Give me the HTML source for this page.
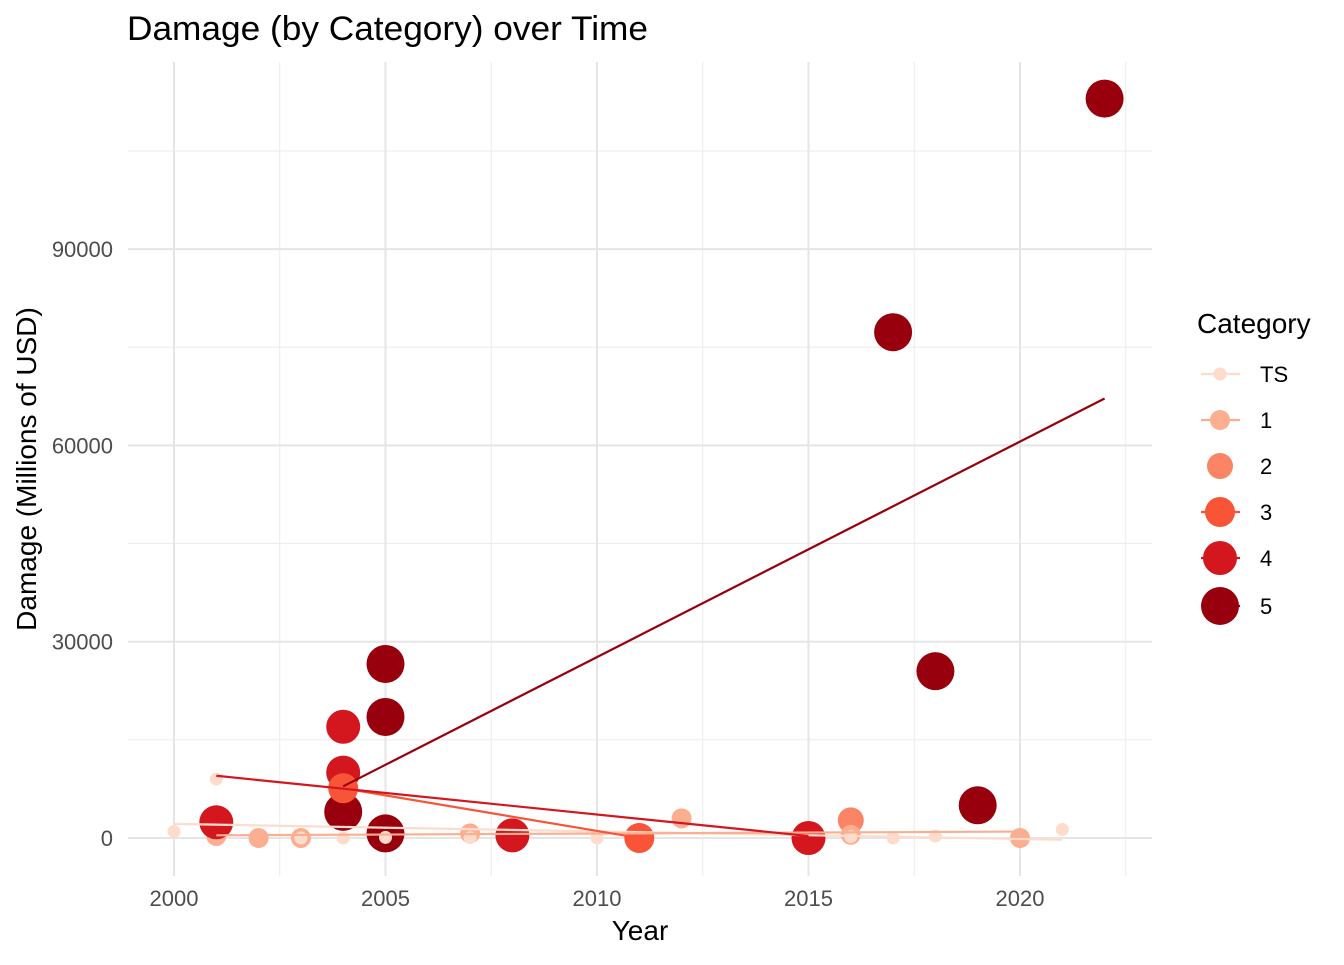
<!DOCTYPE html>
<html><head><meta charset="utf-8"><style>
body{margin:0;background:#fff;}
svg text{font-family:"Liberation Sans",Arial,sans-serif;}
</style></head><body>
<svg id="chart" width="1344" height="960" xmlns="http://www.w3.org/2000/svg">
<rect width="1344" height="960" fill="#fff"/>
<text x="127" y="40" font-size="34" fill="#000" textLength="521" lengthAdjust="spacingAndGlyphs">Damage (by Category) over Time</text>
<g id="grid"></g>
<g id="points"></g>
<g id="lines"></g>
<g id="axes"></g>
<text x="640" y="940" font-size="28" text-anchor="middle">Year</text>
<text transform="translate(36,469) rotate(-90)" font-size="28" text-anchor="middle">Damage (Millions of USD)</text>
<g id="legend">
<text x="1197" y="333" font-size="28">Category</text>
</g>
</svg>
<script>
const categories = ["TS","1","2","3","4","5"];
const colors = ["#FDDCCB","#FCAE91","#FA8464","#FA5438","#D4161E","#99000D"];
const radii = [6.5,10,13,15,17,19];
const years =    [2000,2001,2001,2001,2002,2003,2003,2004,2004,2004,2004,2004,2005,2005,2005,2005,2007,2007,2008,2010,2011,2012,2015,2016,2016,2016,2017,2017,2018,2018,2019,2020,2021,2022];
const damages =  [1000,9000,300, 2400,0,   0,   0,   4000,17000,10000,7600,0,  26600,18500,700,100,700, 50,  400, 0,   0,   3000,0,   2700,500, 200, 77300,0,  25500,300, 5000,0,   1300,113000];
const cats =     [0,   0,   1,   4,   1,   1,   0,   5,   4,    4,    3,   0,  5,    5,    5,  0,  1,   0,   4,   0,   3,   1,   4,   2,   1,   0,   5,    0,  5,    0,   5,   1,   0,   5];
const xTicks = [2000,2005,2010,2015,2020];
const yTicks = [0,30000,60000,90000];
const NS="http://www.w3.org/2000/svg";
const X = y => 174 + (y-2000)*42.3;
const Y = v => 838 - v*196.3/30000;
const L=128,R=1152,T=62,B=876;
function mk(t,a,p){const e=document.createElementNS(NS,t);for(const k in a)e.setAttribute(k,a[k]);p.appendChild(e);return e;}
const grid=document.getElementById('grid');
for(let v=15000;v<=105000;v+=30000){const l=mk('line',{x1:L,x2:R,y1:Y(v),y2:Y(v),stroke:'#ebebeb','stroke-width':1},grid);

}
for(let y=2002.5;y<=2022.5;y+=5){const l=mk('line',{x1:X(y),x2:X(y),y1:T,y2:B,stroke:'#ebebeb','stroke-width':1},grid);

}
const axes=document.getElementById('axes');
yTicks.forEach(v=>{const l=mk('line',{x1:L,x2:R,y1:Y(v),y2:Y(v),stroke:'#e5e5e5','stroke-width':2},grid);


const t=mk('text',{x:113,y:Y(v)+8,'font-size':22,fill:'#4d4d4d','text-anchor':'end'},axes);t.textContent=v;

});
xTicks.forEach(v=>{const l=mk('line',{x1:X(v),x2:X(v),y1:T,y2:B,stroke:'#e5e5e5','stroke-width':2},grid);


const t=mk('text',{x:X(v),y:906,'font-size':22,fill:'#4d4d4d','text-anchor':'middle'},axes);t.textContent=v;

});
const pts=document.getElementById('points');
years.forEach((yr,i)=>{const c=cats[i];const e=mk('circle',{cx:X(yr),cy:Y(damages[i]),r:radii[c],fill:colors[c]},pts);

});
const lines=document.getElementById('lines');
categories.forEach((cn,c)=>{const xs=[],ys=[];years.forEach((yr,i)=>{if(cats[i]===c){xs.push(yr);ys.push(damages[i]);}});
const mnx=Math.min(...xs),mxx=Math.max(...xs);if(xs.length<2||mnx===mxx)return;
const n=xs.length,mx=xs.reduce((a,b)=>a+b)/n,my=ys.reduce((a,b)=>a+b)/n;let sxx=0,sxy=0;
xs.forEach((x,i)=>{sxx+=(x-mx)**2;sxy+=(x-mx)*(ys[i]-my);});const b=sxy/sxx;
const l=mk('line',{x1:X(mnx),y1:Y(my+b*(mnx-mx)),x2:X(mxx),y2:Y(my+b*(mxx-mx)),stroke:colors[c],'stroke-width':2.2},lines);

});
const leg=document.getElementById('legend');
categories.forEach((cn,c)=>{const cy=[374,420,466,512,558,606][c];
if(c!==2){const l=mk('line',{x1:1201,x2:1240,y1:cy,y2:cy,stroke:colors[c],'stroke-width':2.2},leg);

}
const e=mk('circle',{cx:1220,cy:cy,r:radii[c],fill:colors[c]},leg);


const t=mk('text',{x:1260,y:cy+8,'font-size':22,fill:'#000'},leg);t.textContent=cn;

});
</script>
</body></html>
